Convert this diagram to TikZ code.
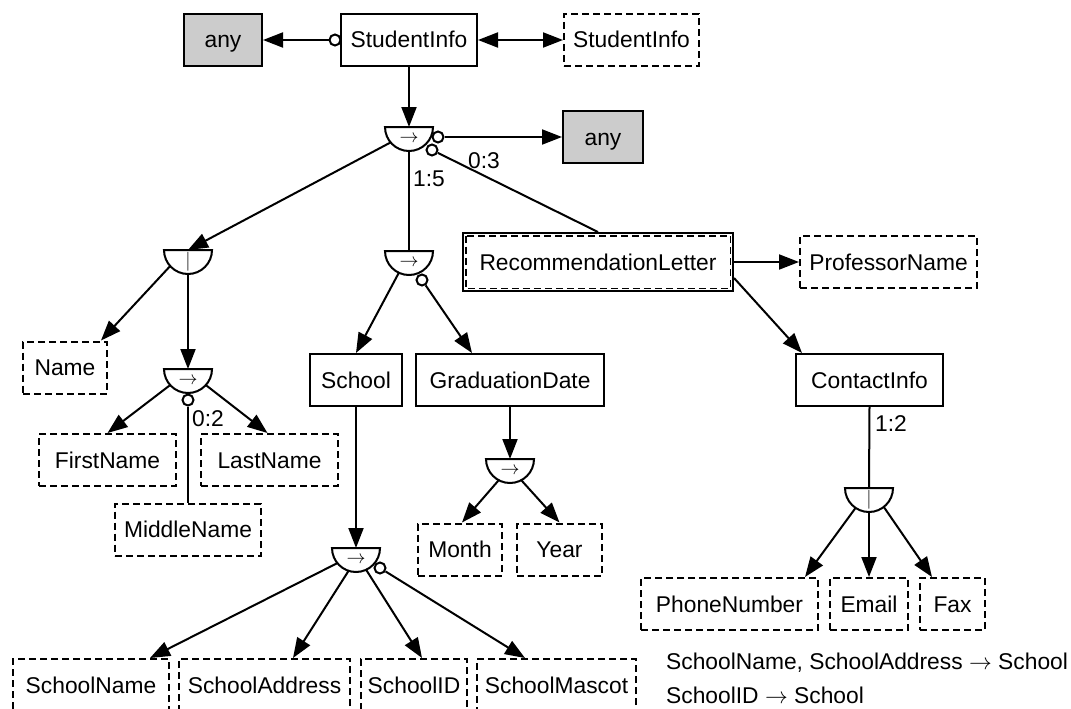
\RequirePackage{fix-cm}
\documentclass[tikz,border=0pt]{standalone}
\usepackage{fontspec}
\setmainfont{Liberation Sans}
\usetikzlibrary{arrows.meta,calc}
\tikzset{
  every node/.style={font=\fontsize{22.8}{27}\selectfont},
  box/.style={draw, line width=2pt, rectangle, inner xsep=4pt, inner ysep=0pt,
    minimum height=52pt, text height=16pt, text depth=0pt},
  dbox/.style={box, dash pattern=on 7pt off 4pt},
  gbox/.style={box, fill=black!20},
  hcirc/.style={circle, minimum size=48pt, inner sep=0pt, outer sep=0pt},
  hshape/.style={line width=2pt, fill=white},
  sym/.style={inner sep=0pt, font=\fontsize{19}{22}\selectfont},
  oc/.style={circle, draw, line width=2pt, fill=white, minimum size=11pt, inner sep=0pt},
  lnk/.style={line width=2pt},
  arr/.style={lnk, -{Triangle[length=20pt,width=15pt]}},
  darr/.style={lnk, {Triangle[length=20pt,width=15pt]}-{Triangle[length=20pt,width=15pt]}},
  card/.style={inner sep=0pt, anchor=west, text height=16pt, text depth=0pt},
}
\newcommand\hnode[3]{%
  \node[hcirc] (#1) at (#2) {};
  \draw[hshape] (#1.west) -- (#1.east) arc[start angle=0, end angle=-180, radius=24pt] -- cycle;
  \node[sym] (#1s) at ([yshift=-12pt]#1.center) {#3};}
\begin{document}
\begin{tikzpicture}[x=1pt,y=-1pt]
\useasboundingbox (0,0) rectangle (1071,709);
% boxes
\node[gbox, minimum width=78pt] (any1) at (223,40) {any};
\node[box, minimum width=136pt] (si) at (409,40) {StudentInfo};
\node[dbox, minimum width=135pt] (si2) at (631.5,40) {StudentInfo};
\node[gbox, minimum width=80pt] (any2) at (603,137) {any};
\node[box, minimum width=270pt, minimum height=58pt] (rec) at (598,262) {RecommendationLetter};
\draw[line width=1.8pt, dash pattern=on 7pt off 4pt] ([shift={(3.6pt,-3.6pt)}]rec.north west) rectangle ([shift={(-3.6pt,3.6pt)}]rec.south east);
\node[dbox, minimum width=177pt] (prof) at (888.5,262) {ProfessorName};
\node[dbox, minimum width=84pt] (name) at (65,367.5) {Name};
\node[box, minimum width=92pt] (school) at (356,380) {School};
\node[box, minimum width=188pt] (grad) at (510,380) {GraduationDate};
\node[box, minimum width=147pt] (contact) at (869.5,380) {ContactInfo};
\node[dbox, minimum width=137pt] (first) at (107.5,460) {FirstName};
\node[dbox, minimum width=137pt] (last) at (269.5,460) {LastName};
\node[dbox, minimum width=146pt] (middle) at (188,529.5) {MiddleName};
\node[dbox, minimum width=84pt] (month) at (460,549.5) {Month};
\node[dbox, minimum width=85pt] (year) at (559.5,549.5) {Year};
\node[dbox, minimum width=177pt] (phone) at (729.5,604) {PhoneNumber};
\node[dbox, minimum width=78pt] (email) at (869,604) {Email};
\node[dbox, minimum width=65pt] (fax) at (952.5,604) {Fax};
\node[dbox, minimum width=156pt] (sname) at (91,685) {SchoolName};
\node[dbox, minimum width=171pt] (saddr) at (264.5,685) {SchoolAddress};
\node[dbox, minimum width=106pt] (sid) at (414,685) {SchoolID};
\node[dbox, minimum width=159pt] (smascot) at (556.5,685) {SchoolMascot};
% half nodes
\hnode{h0}{409,127}{$\rightarrow$}
\hnode{h1}{188,250}{$|$}
\hnode{h2}{409,251}{$\rightarrow$}
\hnode{h3}{188,369}{$\rightarrow$}
\hnode{h4}{356,548}{$\rightarrow$}
\hnode{h5}{510,459}{$\rightarrow$}
\hnode{h6}{869,488}{$|$}
% open circles
\node[oc] (cs) at (335,40) {};
\node[oc] (c1) at (438,137) {};
\node[oc] (c2) at (432,150) {};
\node[oc] (c3) at (422,280) {};
\node[oc] (c4) at (188,400) {};
\node[oc] (c5) at (380,568) {};
% connectors
\draw[arr] (cs) -- (any1.east);
\draw[darr] (si.east) -- (si2.west);
\draw[arr] (si.south) -- (h0.center);
\draw[arr] (c1) -- (any2.west);
\draw[lnk] (c2) -- (rec.north);
\draw[arr] (h0.-140) -- (h1.center);
\draw[lnk] (h0.south) -- (h2.center);
\draw[arr] (h1.-138) -- ([xshift=-7pt]name.north east);
\draw[arr] (h1.south) -- (h3.center);
\draw[arr] (h3.-138) -- (first.north);
\draw[arr] (h3.-42) -- ([xshift=-2pt]last.north);
\draw[lnk] (c4) -- (middle.north);
\draw[arr] (h2.-115) -- (school.north);
\draw[arr] (c3) -- ([xshift=-38pt]grad.north);
\draw[arr] (rec.east) -- (prof.west);
\draw[arr] ([yshift=-16pt]rec.east) -- ([xshift=7pt]contact.north west);
\draw[lnk] (contact.south) -- (h6.center);
\draw[arr] (school.south) -- (h4.center);
\draw[arr] (h4.-141) -- ([xshift=59pt]sname.north);
\draw[arr] (h4.-108) -- ([xshift=28.5pt]saddr.north);
\draw[arr] (h4.-65) -- ([xshift=8pt]sid.north);
\draw[arr] (c5) -- ([xshift=-31.5pt]smascot.north);
\draw[arr] (grad.south) -- (h5.center);
\draw[arr] (h5.-118) -- ([xshift=2pt]month.north);
\draw[arr] (h5.-62) -- (year.north);
\draw[arr] (h6.-124) -- ([xshift=-14pt]phone.north east);
\draw[arr] (h6.south) -- (email.north);
\draw[arr] (h6.-52) -- ([xshift=13pt]fax.north west);
% cardinality labels
\node[card] (l15) at (413,178.5) {1:5};
\node[card] (l03) at (468,160) {0:3};
\node[card] (l02) at (192,418) {0:2};
\node[card] (l12) at (875,423) {1:2};
% functional dependencies
\node[anchor=base west, inner sep=0pt] (fd1) at (666,669) {SchoolName, SchoolAddress $\rightarrow$ School};
\node[anchor=base west, inner sep=0pt] (fd2) at (666,703) {SchoolID $\rightarrow$ School};
\end{tikzpicture}
\end{document}
